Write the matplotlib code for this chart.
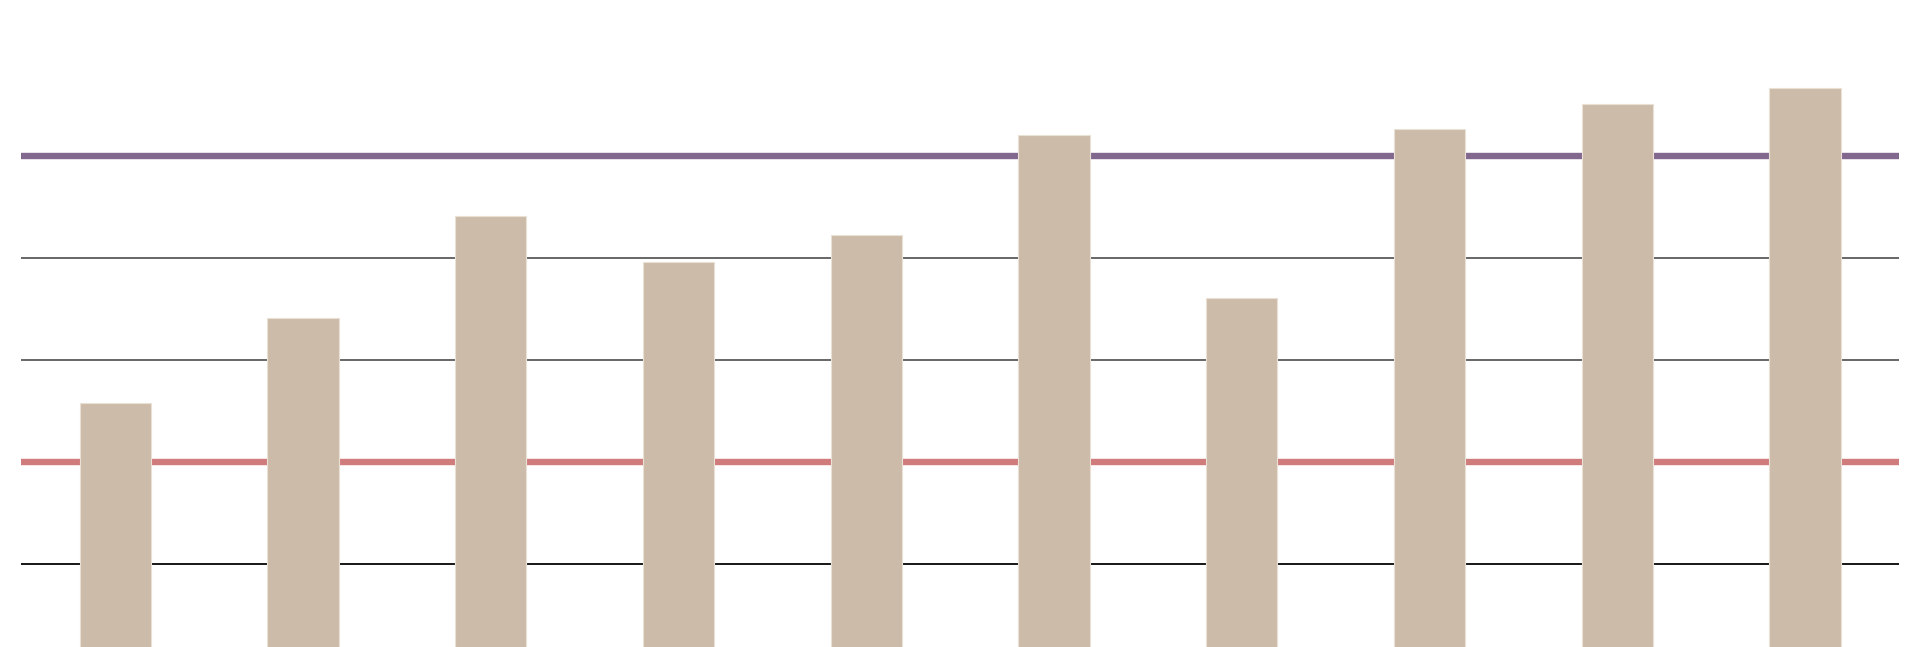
import matplotlib
matplotlib.use("Agg")
import matplotlib.pyplot as plt
import numpy as np

# values (grid step = 10)
categories = ["A", "B", "C", "D", "E", "F", "G", "H", "I", "J"]
values = [25.8, 34.1, 44.1, 39.6, 42.3, 52.1, 36.1, 52.7, 55.1, 56.7]
grid_levels = [10, 30, 40]
red_level = 20
purple_level = 50

fig = plt.figure(figsize=(19.2, 6.47), dpi=100)
ax = fig.add_axes([21.3 / 1920, 0, 1877.7 / 1920, 1])

x = np.arange(len(categories))

# grid lines
for g in grid_levels:
    ax.axhline(g, color="#666666", linewidth=1.4, zorder=1)
ax.axhline(grid_levels[0], color="#1a1a1a", linewidth=1.4, zorder=1.1)

# reference lines
ax.axhline(red_level, color="#d07c7c", linewidth=4.6, zorder=2)
ax.axhline(purple_level, color="#82678e", linewidth=4.6, zorder=2)

ax.bar(x, values, width=0.38, color="#cdbba9", edgecolor="#e9e0d6",
       linewidth=0.8, zorder=3)

ax.set_xlim(-0.5, len(categories) - 0.5)
ax.set_ylim(1.9, 65.3)
ax.axis("off")

plt.savefig("out.png", dpi=100, facecolor="white")
